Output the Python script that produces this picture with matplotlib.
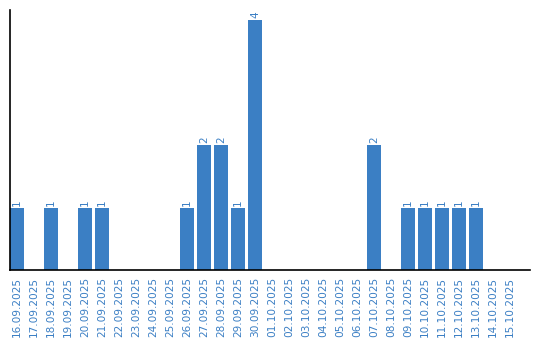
import matplotlib
matplotlib.use("Agg")
import matplotlib.pyplot as plt

dates = ["16.09.2025", "17.09.2025", "18.09.2025", "19.09.2025", "20.09.2025",
         "21.09.2025", "22.09.2025", "23.09.2025", "24.09.2025", "25.09.2025",
         "26.09.2025", "27.09.2025", "28.09.2025", "29.09.2025", "30.09.2025",
         "01.10.2025", "02.10.2025", "03.10.2025", "04.10.2025", "05.10.2025",
         "06.10.2025", "07.10.2025", "08.10.2025", "09.10.2025", "10.10.2025",
         "11.10.2025", "12.10.2025", "13.10.2025", "14.10.2025", "15.10.2025"]
counts = [1, 0, 1, 0, 1, 1, 0, 0, 0, 0, 1, 2, 2, 1, 4,
          0, 0, 0, 0, 0, 0, 2, 0, 1, 1, 1, 1, 1, 0, 0]

color = "#3b7fc4"
fig = plt.figure(figsize=(5.4, 3.4), dpi=100)
ax = fig.add_axes([10/540, 70/340, 520/540, 260/340])
x = list(range(len(dates)))
w = 14/17
bars = ax.bar(x, counts, width=w, color=color)
for xi, c in zip(x, counts):
    if c > 0:
        ax.text(xi, c + 0.03, str(c), rotation=90, ha="center", va="bottom",
                color=color, fontsize=7.5)
ax.set_xlim(-w/2, -w/2 + 520/17)
ax.set_ylim(0, 260/62.5)
ax.set_xticks(x)
ax.set_xticklabels(dates, rotation=90, color=color, fontsize=7.6)
ax.tick_params(axis="x", length=0, pad=5)
ax.set_yticks([])
for s in ["top", "right"]:
    ax.spines[s].set_visible(False)
ax.spines["left"].set_linewidth(1.2)
ax.spines["bottom"].set_linewidth(1.2)
fig.savefig("out.png", dpi=100)
